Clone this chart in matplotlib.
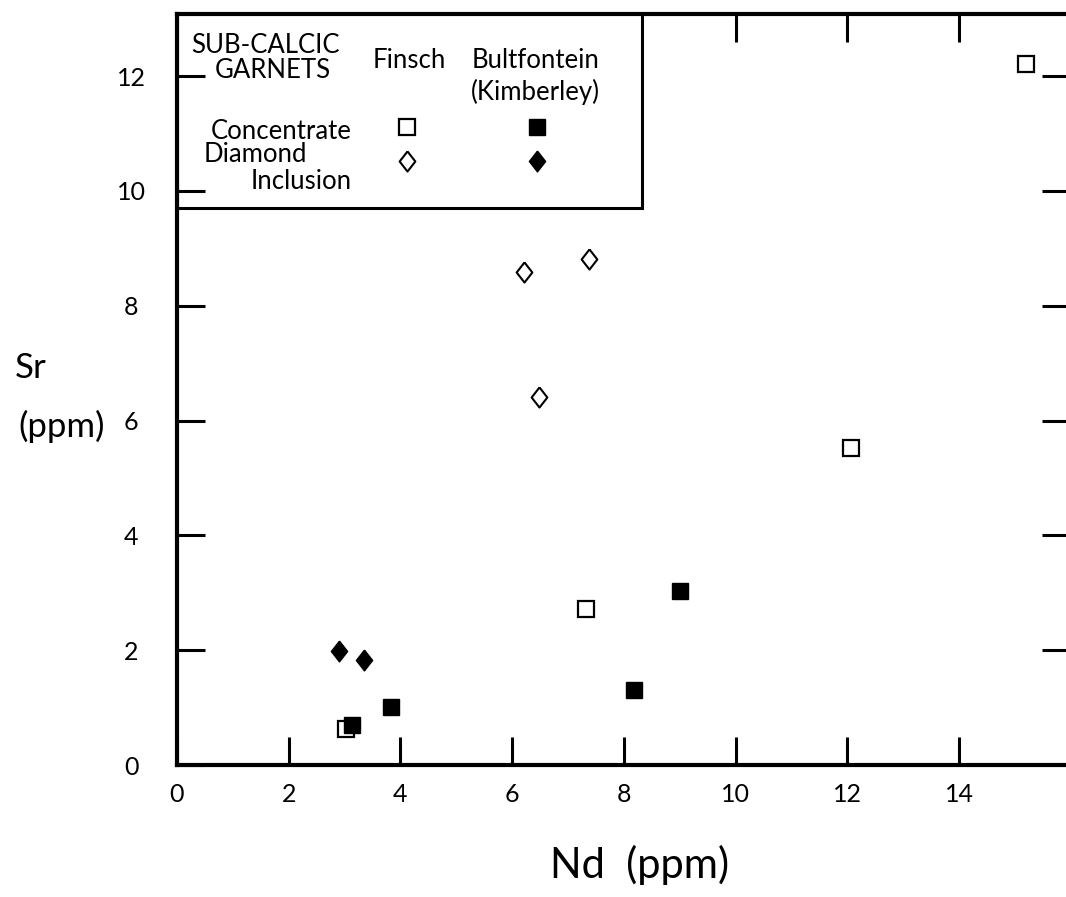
import matplotlib
matplotlib.use("Agg")
import matplotlib.pyplot as plt
import matplotlib.patches as patches

plt.rcParams['font.family'] = ['Lato', 'DejaVu Sans']

# Finsch concentrate (open squares)
finsch_conc_nd = [15.19, 12.07, 7.32, 3.02]
finsch_conc_sr = [12.21, 5.52, 2.72, 0.63]
# Bultfontein concentrate (filled squares)
bult_conc_nd = [3.13, 3.83, 8.18, 9.00]
bult_conc_sr = [0.70, 1.01, 1.31, 3.03]
# Finsch diamond inclusions (open diamonds)
finsch_incl_nd = [6.21, 7.37, 6.48]
finsch_incl_sr = [8.59, 8.82, 6.41]
# Bultfontein diamond inclusions (filled diamonds)
bult_incl_nd = [2.90, 3.35]
bult_incl_sr = [1.99, 1.83]

xticks = [0, 2, 4, 6, 8, 10, 12, 14]
yticks = [0, 2, 4, 6, 8, 10, 12]

W, H = 1066, 897
fig = plt.figure(figsize=(W / 100, H / 100), dpi=100)
ax = fig.add_axes([177 / W, 1 - 765 / H, (1068 - 177) / W, (765 - 14) / H])
ax.set_xlim(0, 15.95)
ax.set_ylim(0, 13.08)

diam = [(0, 1), (0.78, 0), (0, -1), (-0.78, 0), (0, 1)]

ax.plot(finsch_conc_nd, finsch_conc_sr, ls='none', marker='s', ms=11.5,
        mfc='white', mec='black', mew=1.6, zorder=3)
ax.plot(bult_conc_nd, bult_conc_sr, ls='none', marker='s', ms=12,
        mfc='black', mec='black', zorder=4)
ax.plot(finsch_incl_nd, finsch_incl_sr, ls='none', marker=diam, ms=14.5,
        mfc='white', mec='black', mew=1.5, zorder=3)
ax.plot(bult_incl_nd, bult_incl_sr, ls='none', marker=diam, ms=15,
        mfc='black', mec='black', zorder=3)

# spines
for s in ['left', 'bottom', 'top']:
    ax.spines[s].set_linewidth(3)
ax.spines['right'].set_visible(False)

ax.set_xticks(xticks)
ax.set_xticklabels([str(t) for t in xticks], fontsize=18)
ax.set_yticks(yticks)
ax.set_yticklabels([str(t) for t in yticks], fontsize=18, ha='center')
ax.tick_params(direction='in', length=20, width=2.2)
ax.tick_params(axis='x', pad=13)
ax.tick_params(axis='y', pad=33)

top = ax.secondary_xaxis('top')
top.set_xticks([10, 12, 14])
top.tick_params(direction='in', length=20, width=2.2, labeltop=False)
top.spines['top'].set_visible(False)

right = ax.secondary_yaxis('right')
right.set_yticks([2, 4, 6, 8, 10, 12])
right.tick_params(direction='in', length=19, width=2.2, labelright=False)
right.spines['right'].set_visible(False)

# legend box
ax.add_patch(patches.Rectangle((0, 9.70), 8.32, 3.5, fill=False, lw=2.2,
                               ec='black', clip_on=True, zorder=2))

fs = 18.5
ax.text(1.59, 12.40, 'SUB-CALCIC', ha='center', va='baseline', fontsize=fs)
ax.text(1.72, 11.97, 'GARNETS', ha='center', va='baseline', fontsize=fs)
ax.text(4.15, 12.14, 'Finsch', ha='center', va='baseline', fontsize=fs)
ax.text(6.42, 12.14, 'Bultfontein', ha='center', va='baseline', fontsize=fs)
ax.text(6.42, 11.59, '(Kimberley)', ha='center', va='baseline', fontsize=fs)
ax.text(3.13, 10.90, 'Concentrate', ha='right', va='baseline', fontsize=fs)
ax.text(0.47, 10.50, 'Diamond', ha='left', va='baseline', fontsize=fs)
ax.text(3.13, 10.04, 'Inclusion', ha='right', va='baseline', fontsize=fs)

ax.plot([4.11], [11.11], ls='none', marker='s', ms=11.5, mfc='white',
        mec='black', mew=1.6)
ax.plot([6.44], [11.11], ls='none', marker='s', ms=12, mfc='black',
        mec='black')
ax.plot([4.11], [10.52], ls='none', marker=diam, ms=14.5, mfc='white',
        mec='black', mew=1.5)
ax.plot([6.44], [10.52], ls='none', marker=diam, ms=15, mfc='black',
        mec='black')

# axis titles
fig.text(640 / W, 1 - 878 / H, 'Nd  (ppm)', ha='center', va='baseline',
         fontsize=30)
fig.text(31 / W, 1 - 378 / H, 'Sr', ha='center', va='baseline', fontsize=25)
fig.text(62 / W, 1 - 426 / H, '(ppm)', ha='center', va='center', fontsize=25)

fig.savefig('out.png', dpi=100)
